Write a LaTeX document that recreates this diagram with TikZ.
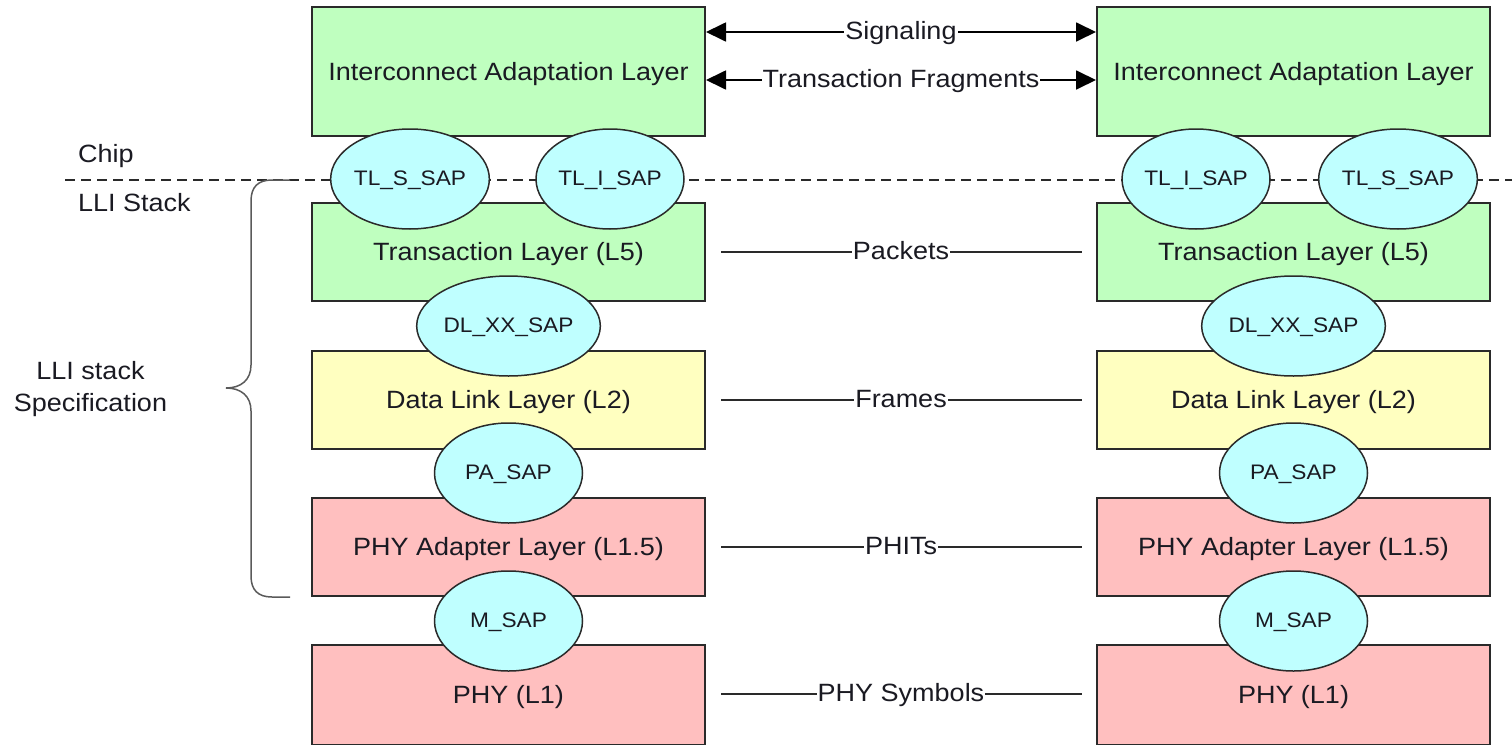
\documentclass[tikz,border=0pt]{standalone}
\usepackage{fontspec}
\setmainfont[FakeStretch=1.08]{Liberation Sans}
\usetikzlibrary{shapes.geometric,arrows.meta}
\definecolor{laygreen}{HTML}{BFFFBF}
\definecolor{layyellow}{HTML}{FFFFC0}
\definecolor{laypink}{HTML}{FFBFBF}
\definecolor{sapcyan}{HTML}{BFFFFF}
\definecolor{ink}{HTML}{1A1A22}
\definecolor{edge}{HTML}{2A2A2A}
\definecolor{bracegray}{HTML}{5A5A5A}

\begin{document}
\begin{tikzpicture}[x=1pt,y=-1pt,
  every node/.style={text=ink, font=\fontsize{25}{32}\selectfont},
  layer/.style={draw=edge, line width=2pt, minimum width=393pt,
    minimum height=98pt, inner sep=0pt, text height=17pt, text depth=0pt},
  sap/.style={ellipse, draw=edge, line width=1.5pt, fill=sapcyan,
    minimum width=148pt, minimum height=100pt, inner sep=0pt,
    text height=12.5pt, text depth=0pt,
    font=\fontsize{21}{25}\selectfont},
  link/.style={draw=edge, line width=2pt},
  biarrow/.style={draw=black, line width=1.8pt,
    {Triangle[length=20pt,width=19pt]}-{Triangle[length=20pt,width=19pt]}},
  lab/.style={fill=white, inner sep=1pt, text height=14pt, text depth=0pt},
  sep/.style={draw=edge, line width=1.5pt, dash pattern=on 10pt off 6pt}]

\useasboundingbox (0,0) rectangle (1512,744);
\clip (0,0) rectangle (1512,744);

% chip / stack separator
\draw[sep] (65,180) -- (1512,180);

% left stack
\node[layer, fill=laygreen, minimum height=129pt] (ial1) at (508.5,71.5) {Interconnect Adaptation Layer};
\node[layer, fill=laygreen] (tl1) at (508.5,252) {Transaction Layer (L5)};
\node[layer, fill=layyellow] (dl1) at (508.5,400) {Data Link Layer (L2)};
\node[layer, fill=laypink] (pa1) at (508.5,547) {PHY Adapter Layer (L1.5)};
\node[layer, fill=laypink, minimum height=100pt] (phy1) at (508.5,695) {PHY (L1)};

% right stack
\node[layer, fill=laygreen, minimum height=129pt] (ial2) at (1293.5,71.5) {Interconnect Adaptation Layer};
\node[layer, fill=laygreen] (tl2) at (1293.5,252) {Transaction Layer (L5)};
\node[layer, fill=layyellow] (dl2) at (1293.5,400) {Data Link Layer (L2)};
\node[layer, fill=laypink] (pa2) at (1293.5,547) {PHY Adapter Layer (L1.5)};
\node[layer, fill=laypink, minimum height=100pt] (phy2) at (1293.5,695) {PHY (L1)};

% service access points, left
\node[sap] (tls1) at (410,179) {TL\_S\_SAP};
\node[sap] (tli1) at (610,179) {TL\_I\_SAP};
\node[sap] (dlx1) at (508.5,326) {DL\_XX\_SAP};
\node[sap] (pas1) at (508.5,473) {PA\_SAP};
\node[sap] (ms1) at (508.5,621) {M\_SAP};

% service access points, right
\node[sap] (tli2) at (1196,179) {TL\_I\_SAP};
\node[sap] (tls2) at (1398,179) {TL\_S\_SAP};
\node[sap] (dlx2) at (1293.5,326) {DL\_XX\_SAP};
\node[sap] (pas2) at (1293.5,473) {PA\_SAP};
\node[sap] (ms2) at (1293.5,621) {M\_SAP};

% peer-to-peer exchanges
\draw[biarrow] ([yshift=39.5pt]ial1.east) -- node[lab] {Signaling} ([yshift=39.5pt]ial2.west);
\draw[biarrow] ([yshift=-8.5pt]ial1.east) -- node[lab] {Transaction Fragments} ([yshift=-8.5pt]ial2.west);
\draw[link, shorten <=15pt, shorten >=14pt] (tl1.east) -- node[lab] {Packets} (tl2.west);
\draw[link, shorten <=15pt, shorten >=14pt] (dl1.east) -- node[lab] {Frames} (dl2.west);
\draw[link, shorten <=15pt, shorten >=14pt] (pa1.east) -- node[lab] {PHITs} (pa2.west);
\draw[link, shorten <=15pt, shorten >=14pt] (phy1.east |- 0,694) -- node[lab] {PHY Symbols} (phy2.west |- 0,694);

% side labels
\node[anchor=base west, inner sep=0pt] (chip) at (78,162) {Chip};
\node[anchor=base west, inner sep=0pt] (stack) at (78,211) {LLI Stack};
\node[align=center, inner sep=0pt] (spec) at (90.5,389) {LLI stack\\Specification};

% brace spanning the specified layers
\draw[bracegray, line width=1.5pt]
  (290,180) -- (272,180)
  .. controls (258,180) and (251,187) .. (251,201)
  -- (251,365)
  .. controls (251,380) and (241,388) .. (226,388)
  .. controls (241,388) and (251,396) .. (251,411)
  -- (251,576)
  .. controls (251,590) and (258,597) .. (272,597)
  -- (290,597);
\end{tikzpicture}
\end{document}
